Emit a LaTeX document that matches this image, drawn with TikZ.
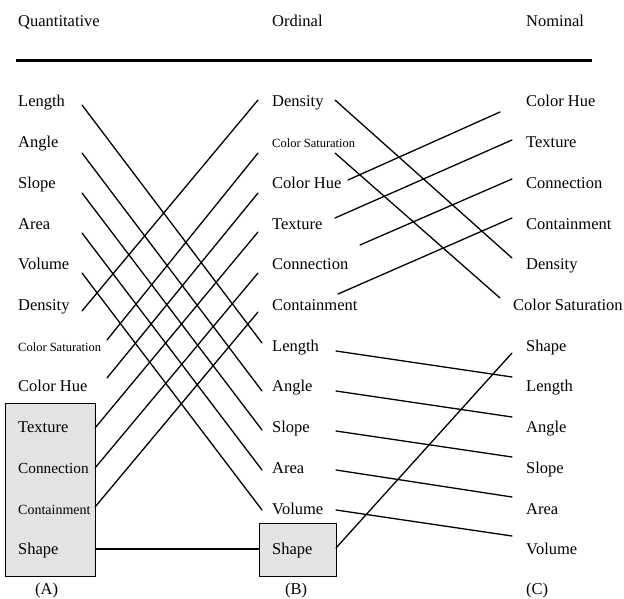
\documentclass[tikz,border=0pt]{standalone}
\usepackage{fontspec}
\setmainfont{Liberation Serif}
\tikzset{
  lab/.style={anchor=base west, inner sep=0pt, font=\fontsize{16.5}{18}\selectfont},
  smalllab/.style={lab, font=\fontsize{12.5}{14}\selectfont},
  conn/.style={line width=1.3pt, line cap=round},
  grpbox/.style={draw=black, line width=0.6pt, fill=black!11},
}
\begin{document}
\begin{tikzpicture}[x=1pt,y=-1pt]
\useasboundingbox (0,0) rectangle (624,599);
% headers
\node[lab] (hq) at (18,27) {Quantitative};
\node[lab] (ho) at (272,27) {Ordinal};
\node[lab] (hn) at (526,27) {Nominal};
\draw[line width=3pt] (16,61) -- (592,61);
% boxes
\node[grpbox, minimum width=90pt, minimum height=173pt, anchor=north west, inner sep=0pt] (boxA) at (5,403) {};
\node[grpbox, minimum width=77pt, minimum height=53pt, anchor=north west, inner sep=0pt] (boxB) at (259,523) {};
% column A
\node[lab] (aLen) at (18,107) {Length};
\node[lab] (aAng) at (18,147.7) {Angle};
\node[lab] (aSlo) at (18,188.4) {Slope};
\node[lab] (aAre) at (18,229.1) {Area};
\node[lab] (aVol) at (18,269.8) {Volume};
\node[lab] (aDen) at (18,310.5) {Density};
\node[smalllab] (aSat) at (18,351.2) {Color Saturation};
\node[lab] (aHue) at (18,391.9) {Color Hue};
\node[lab] (aTex) at (18,432.6) {Texture};
\node[lab, font=\fontsize{15.3}{17}\selectfont] (aCon) at (18,473.3) {Connection};
\node[lab, font=\fontsize{14}{16}\selectfont] (aCnt) at (18,514) {Containment};
\node[lab] (aSha) at (18,554.7) {Shape};
% column B
\node[lab] (bDen) at (272,107) {Density};
\node[smalllab] (bSat) at (272,147.7) {Color Saturation};
\node[lab] (bHue) at (272,188.4) {Color Hue};
\node[lab] (bTex) at (272,229.1) {Texture};
\node[lab] (bCon) at (272,269.8) {Connection};
\node[lab] (bCnt) at (272,310.5) {Containment};
\node[lab] (bLen) at (272,351.2) {Length};
\node[lab] (bAng) at (272,391.9) {Angle};
\node[lab] (bSlo) at (272,432.6) {Slope};
\node[lab] (bAre) at (272,473.3) {Area};
\node[lab] (bVol) at (272,514) {Volume};
\node[lab] (bSha) at (272,554.7) {Shape};
% column C
\node[lab] (cHue) at (526,107) {Color Hue};
\node[lab] (cTex) at (526,147.7) {Texture};
\node[lab] (cCon) at (526,188.4) {Connection};
\node[lab] (cCnt) at (526,229.1) {Containment};
\node[lab] (cDen) at (526,269.8) {Density};
\node[lab] (cSat) at (513,310.5) {Color Saturation};
\node[lab] (cSha) at (526,351.2) {Shape};
\node[lab] (cLen) at (526,391.9) {Length};
\node[lab] (cAng) at (526,432.6) {Angle};
\node[lab] (cSlo) at (526,473.3) {Slope};
\node[lab] (cAre) at (526,514) {Area};
\node[lab] (cVol) at (526,554.7) {Volume};
% group labels
\node[lab] (gA) at (35,594) {(A)};
\node[lab] (gB) at (285,594) {(B)};
\node[lab] (gC) at (526,594) {(C)};
% connector end points A -> B
\coordinate (p1) at (82,105);   \coordinate (q1) at (262,343);
\coordinate (p2) at (82,153);   \coordinate (q2) at (262,391);
\coordinate (p3) at (82,193);   \coordinate (q3) at (262,430);
\coordinate (p4) at (82,233);   \coordinate (q4) at (262,470);
\coordinate (p5) at (82,273);   \coordinate (q5) at (262,510);
\coordinate (p6) at (82,311);   \coordinate (q6) at (258,100);
\coordinate (p7) at (107,340);  \coordinate (q7) at (258,153);
\coordinate (p8) at (107,378);  \coordinate (q8) at (258,193);
\coordinate (p9) at (95,428);   \coordinate (q9) at (258,232);
\coordinate (p10) at (95,468);  \coordinate (q10) at (258,273);
\coordinate (p11) at (95,507);  \coordinate (q11) at (258,312);
\draw[conn] (p1) -- (q1);
\draw[conn] (p2) -- (q2);
\draw[conn] (p3) -- (q3);
\draw[conn] (p4) -- (q4);
\draw[conn] (p5) -- (q5);
\draw[conn] (p6) -- (q6);
\draw[conn] (p7) -- (q7);
\draw[conn] (p8) -- (q8);
\draw[conn] (p9) -- (q9);
\draw[conn] (p10) -- (q10);
\draw[conn] (p11) -- (q11);
\draw[conn, line cap=butt] (boxA.east |- 0,549) -- (boxB.west |- 0,549);
% connector end points B -> C
\coordinate (r1) at (335,100);  \coordinate (s1) at (512,258);
\coordinate (r2) at (335,153);  \coordinate (s2) at (500,298);
\coordinate (r3) at (348,180);  \coordinate (s3) at (500,112);
\coordinate (r4) at (335,218);  \coordinate (s4) at (512,140);
\coordinate (r5) at (360,245);  \coordinate (s5) at (512,179);
\coordinate (r6) at (338,294);  \coordinate (s6) at (512,218);
\coordinate (r7) at (336,351);  \coordinate (s7) at (512,377);
\coordinate (r8) at (336,391);  \coordinate (s8) at (512,417);
\coordinate (r9) at (336,431);  \coordinate (s9) at (512,457);
\coordinate (r10) at (336,470); \coordinate (s10) at (512,497);
\coordinate (r11) at (336,510); \coordinate (s11) at (512,536);
\coordinate (r12) at (336,548); \coordinate (s12) at (512,353);
\draw[conn] (r1) -- (s1);
\draw[conn] (r2) -- (s2);
\draw[conn] (r3) -- (s3);
\draw[conn] (r4) -- (s4);
\draw[conn] (r5) -- (s5);
\draw[conn] (r6) -- (s6);
\draw[conn] (r7) -- (s7);
\draw[conn] (r8) -- (s8);
\draw[conn] (r9) -- (s9);
\draw[conn] (r10) -- (s10);
\draw[conn] (r11) -- (s11);
\draw[conn] (r12) -- (s12);
\end{tikzpicture}
\end{document}
